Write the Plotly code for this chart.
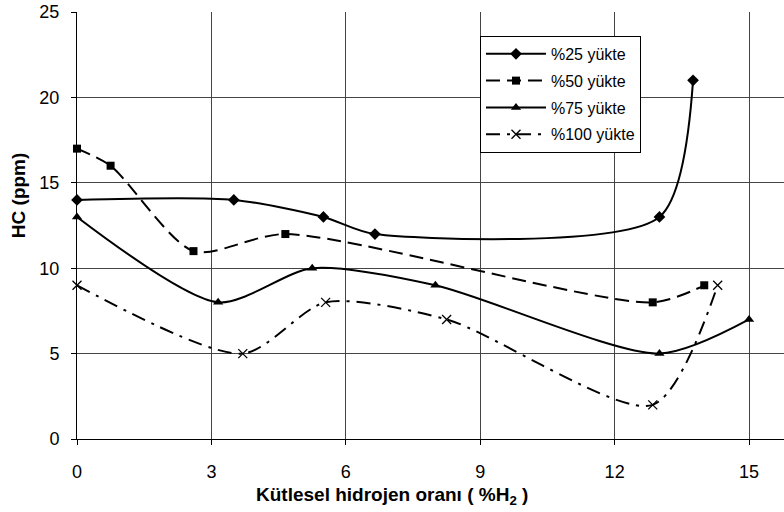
import plotly.graph_objects as go

# Data
x25 = [0, 3.5, 5.5, 6.65, 13.0, 13.75]
y25 = [14, 14, 13, 12, 13, 21]
x50 = [0, 0.75, 2.6, 4.65, 12.85, 14.0]
y50 = [17, 16, 11, 12, 8, 9]
x75 = [0, 3.15, 5.25, 8.0, 13.0, 15.0]
y75 = [13, 8, 10, 9, 5, 7]
x100 = [0, 3.7, 5.55, 8.25, 12.85, 14.3]
y100 = [9, 5, 8, 7, 2, 9]

names = ["%25 yükte", "%50 yükte", "%75 yükte", "%100 yükte"]
xticks = [0, 3, 6, 9, 12, 15]
yticks = [0, 5, 10, 15, 20, 25]
x_title = "<b>Kütlesel hidrojen oranı ( %H<sub>2</sub> )</b>"
y_title = "<b>HC (ppm)</b>"

series = [
    (x25, y25, names[0], "solid", dict(symbol="diamond", size=9, color="black")),
    (x50, y50, names[1], "14px,7px", dict(symbol="square", size=8, color="black")),
    (x75, y75, names[2], "solid", dict(symbol="triangle-up", size=9, color="black")),
    (x100, y100, names[3], "14px,7px,3px,7px",
     dict(symbol="x-thin-open", size=9, color="black", line=dict(width=1.3, color="black"))),
]

fig = go.Figure()
for i, (xs, ys, nm, dash, mk) in enumerate(series):
    fig.add_trace(go.Scatter(
        x=xs, y=ys, name=nm, mode="lines+markers", legendgroup=f"g{i}",
        line=dict(color="black", width=2, dash=dash, shape="spline", smoothing=0.75),
        marker=mk, cliponaxis=False,
    ))

font_family = "Liberation Sans, Arial, sans-serif"
fig.update_layout(
    width=784, height=512,
    margin=dict(l=77, r=0, t=12, b=73),
    paper_bgcolor="white", plot_bgcolor="white",
    font=dict(family=font_family, size=18, color="black"),
    showlegend=True,
    legend=dict(
        x=0.57, y=0.944, xanchor="left", yanchor="top",
        bgcolor="white", bordercolor="black", borderwidth=1,
        font=dict(family=font_family, size=16, color="black"),
        tracegroupgap=3, itemwidth=60,
    ),
    xaxis=dict(
        range=[0, 15.78], tickvals=xticks, ticktext=[str(t) for t in xticks],
        showgrid=True, gridcolor="#444", gridwidth=1,
        showline=True, linecolor="black", linewidth=1,
        ticks="outside", ticklen=5, tickcolor="black",
        zeroline=False, automargin=False,
        tickfont=dict(size=18), ticklabelstandoff=11,
    ),
    yaxis=dict(
        range=[0, 25], tickvals=yticks, ticktext=[str(t) for t in yticks],
        showgrid=True, gridcolor="#444", gridwidth=1,
        showline=True, linecolor="black", linewidth=1,
        ticks="outside", ticklen=5, tickcolor="black",
        zeroline=False, automargin=False,
        tickfont=dict(size=18), ticklabelstandoff=8,
    ),
    annotations=[
        dict(text=x_title, xref="paper", yref="paper", x=0.4455, y=-0.134,
             xanchor="center", yanchor="middle", showarrow=False,
             font=dict(family=font_family, size=19, color="black")),
        dict(text=y_title, xref="paper", yref="paper", x=-0.0835, y=0.571,
             xanchor="center", yanchor="middle", showarrow=False, textangle=-90,
             font=dict(family=font_family, size=19, color="black")),
    ],
)

fig.write_html("out.html")
